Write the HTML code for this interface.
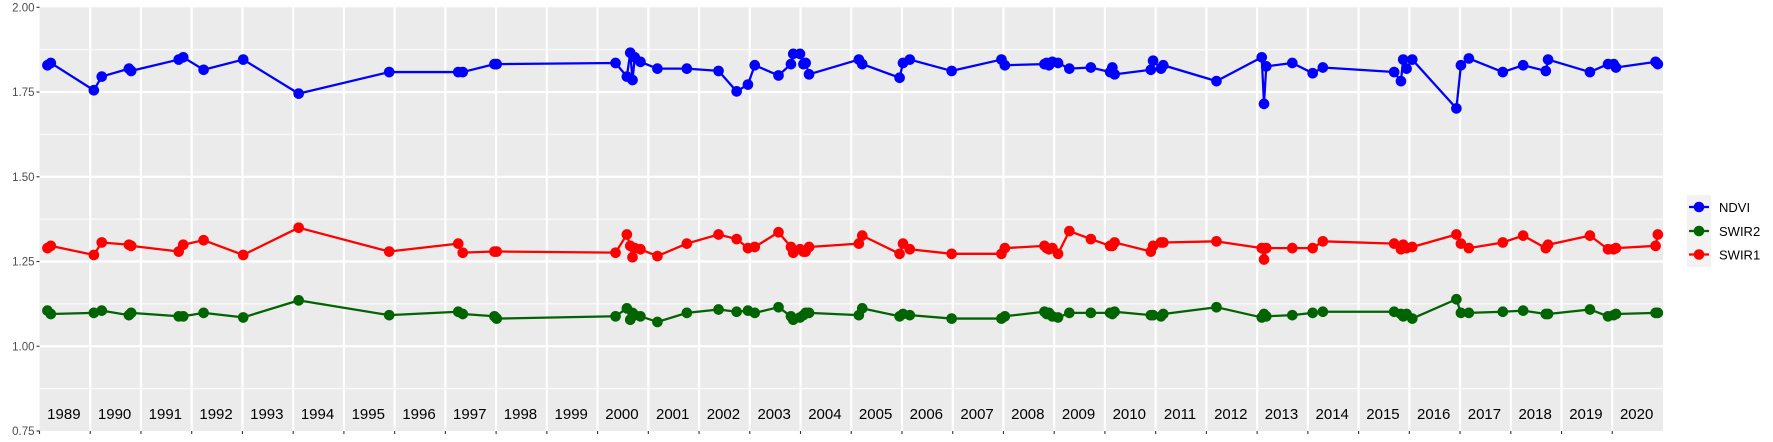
<!DOCTYPE html>
<html><head><meta charset="utf-8"><style>
body{margin:0;background:#fff;}
svg{display:block;font-family:"Liberation Sans",sans-serif;}
</style></head><body>
<svg id="s" width="1773" height="442" viewBox="0 0 1773 442" xmlns="http://www.w3.org/2000/svg">
<rect x="39.5" y="7.3" width="1623.5" height="423.7" fill="#ebebeb"/>
<g id="grid"></g>
<g id="axis"></g>
<g id="data" transform="translate(39.5 7.3) scale(1.1317 1.136) translate(-37 -7)"></g>
<rect x="1687" y="195" width="24" height="72" fill="#f2f2f2"/>
<g stroke-width="2.3"><line x1="1689" y1="207" x2="1709" y2="207" stroke="#0000ff"/><circle cx="1699" cy="207" r="5.3" fill="#0000ff"/>
<line x1="1689" y1="231" x2="1709" y2="231" stroke="#006400"/><circle cx="1699" cy="231" r="5.3" fill="#006400"/>
<line x1="1689" y1="254.5" x2="1709" y2="254.5" stroke="#ff0000"/><circle cx="1699" cy="254.5" r="5.3" fill="#ff0000"/></g>
<g font-size="13" fill="#000"><text x="1719" y="212">NDVI</text><text x="1719" y="236">SWIR2</text><text x="1719" y="259.5">SWIR1</text></g>
</svg>
<script>
var NS="http://www.w3.org/2000/svg";
function el(p,t,a,txt){var e=document.createElementNS(NS,t);for(var k in a)e.setAttribute(k,a[k]);if(txt)e.textContent=txt;p.appendChild(e);return e;}
var g=document.getElementById('grid'),ax=document.getElementById('axis');
var L=39.5,R=1663,T=7.3,B=431;
function Y(v){return T+(2-v)*(B-T)/1.25;}
[0.875,1.125,1.375,1.625,1.875].forEach(function(v){el(g,'line',{x1:L,x2:R,y1:Y(v),y2:Y(v),stroke:'#fff','stroke-width':1});});
[1,1.25,1.5,1.75].forEach(function(v){el(g,'line',{x1:L,x2:R,y1:Y(v),y2:Y(v),stroke:'#fff','stroke-width':2.2});});
var w=(R-L)/32;
for(var i=1;i<32;i++){var x=L+w*i;el(g,'line',{x1:x,x2:x,y1:T,y2:B,stroke:'#fff','stroke-width':2.2});}
for(var i=0;i<32;i++){var x=L+w*i;el(ax,'line',{x1:x,x2:x,y1:B,y2:B+3,stroke:'#333','stroke-width':1.1});
el(ax,'text',{x:L+w*(i+0.5)-1,y:419,'font-size':15,'text-anchor':'middle',fill:'#000'},String(1989+i));}
[0.75,1,1.25,1.5,1.75,2].forEach(function(v){var y=Y(v);el(ax,'line',{x1:L-3,x2:L,y1:y,y2:y,stroke:'#333','stroke-width':1.1});
el(ax,'text',{x:L-5,y:y+4,'font-size':11.5,'text-anchor':'end',fill:'#4d4d4d'},v.toFixed(2));});
var xs=[44,47,85,92,116,118,160,164,182,217,266,346,407,411,439,441,546,556,559,561,563,568,583,609,637,653,663,669,690,701,703,709,712,714,717,761,764,797,800,806,843,887,890,925,927,929,932,937,947,966,983,985,987,1019,1021,1028,1030,1077,1117,1119,1121,1144,1162,1171,1234,1240,1242,1245,1250,1289,1293,1300,1330,1348,1368,1370,1407,1423,1428,1430,1465,1467];
var nd=[58,56,80,68,61,63,53,51,62,53,83,64,64,64,57,57,56,68,47,71,51,55,61,61,63,81,75,58,67,57,48,48,57,56,66,53,57,69,56,53,63,53,58,57,56,58,55,56,61,60,64,60,66,62,54,61,58,72,51,92,59,56,65,60,64,72,53,61,53,96,58,52,64,58,63,53,64,57,57,60,55,57];
var s1=[219,217,225,214,216,217,222,216,212,225,201,222,215,223,222,222,223,207,217,227,219,220,226,215,207,211,219,218,205,218,223,220,222,222,218,215,208,224,215,220,224,224,219,217,219,220,219,224,204,211,217,217,214,222,217,214,214,213,219,229,219,219,219,213,215,220,216,219,218,207,215,219,214,208,219,216,208,220,220,219,217,207];
var s2=[274,277,276,274,278,276,279,279,276,280,265,278,275,277,279,281,279,272,282,276,278,279,284,276,273,275,274,276,271,279,282,280,278,276,276,278,272,279,277,278,281,281,279,275,277,276,279,280,276,276,276,277,275,278,278,279,277,271,280,277,279,278,276,275,275,277,279,277,281,264,276,276,275,274,277,277,273,279,278,277,276,276];
var d=document.getElementById('data');
[[nd,'#0000ff'],[s2,'#006400'],[s1,'#ff0000']].forEach(function(p){
var pts=xs.map(function(x,i){return x+','+p[0][i];}).join(' ');
el(d,'polyline',{points:pts,fill:'none',stroke:p[1],'stroke-width':2,'stroke-linejoin':'round'});
xs.forEach(function(x,i){el(d,'circle',{cx:x,cy:p[0][i],r:4.7,fill:p[1]});});
});
</script>
</body></html>
